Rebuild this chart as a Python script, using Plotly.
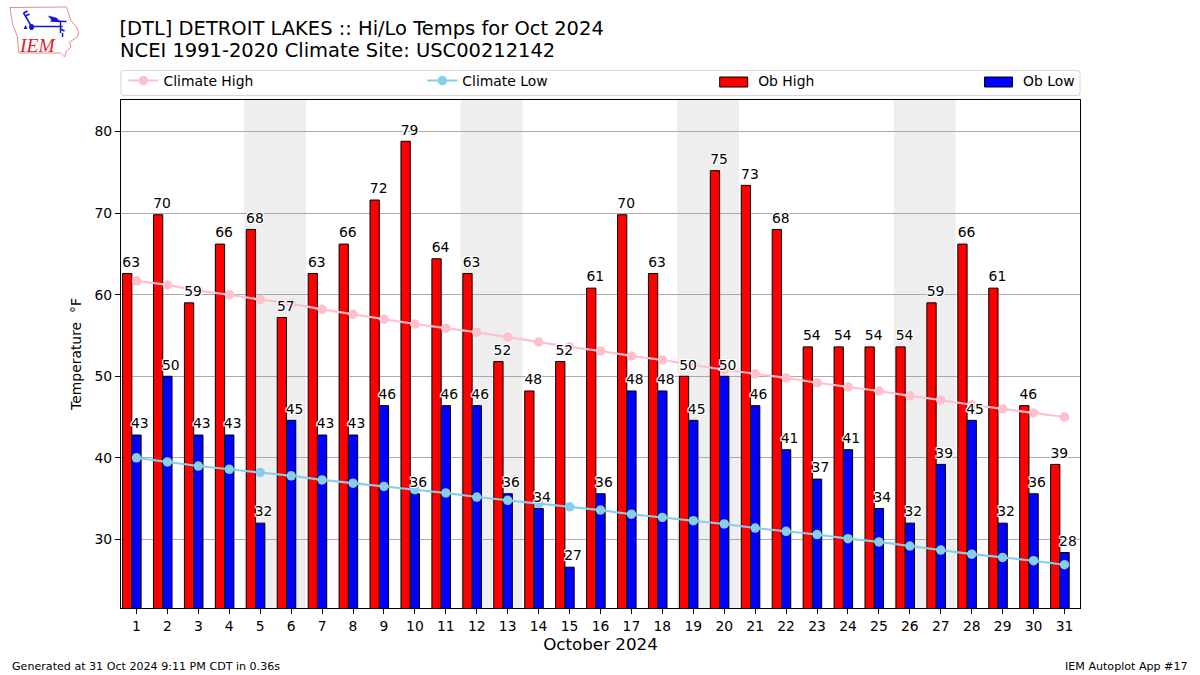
import plotly.graph_objects as go

days = list(range(1, 32))
ob_high = [62.6, 69.8, 59, 66.2, 68, 57.2, 62.6, 66.2, 71.6, 78.8, 64.4, 62.6, 51.8, 48.2, 51.8, 60.8,
           69.8, 62.6, 50, 75.2, 73.4, 68, 53.6, 53.6, 53.6, 53.6, 59, 66.2, 60.8, 46.4, 39.2]
ob_low = [42.8, 50, 42.8, 42.8, 32, 44.6, 42.8, 42.8, 46.4, 35.6, 46.4, 46.4, 35.6, 33.8, 26.6, 35.6,
          48.2, 48.2, 44.6, 50, 46.4, 41, 37.4, 41, 33.8, 32, 39.2, 44.6, 32, 35.6, 28.4]
clim_high = [61.7, 61.2, 60.5, 60.0, 59.4, 58.9, 58.2, 57.6, 57.0, 56.4, 55.9, 55.4, 54.8, 54.2, 53.6, 53.1,
             52.5, 52.0, 51.4, 50.8, 50.3, 49.8, 49.2, 48.7, 48.2, 47.6, 47.1, 46.5, 46.0, 45.5, 45.0]
clim_low = [40.0, 39.5, 39.0, 38.6, 38.2, 37.8, 37.3, 36.9, 36.5, 36.1, 35.7, 35.2, 34.8, 34.4, 34.0, 33.6,
            33.1, 32.7, 32.3, 31.9, 31.4, 31.0, 30.6, 30.1, 29.7, 29.2, 28.7, 28.2, 27.8, 27.4, 26.9]
weekend_starts = [5, 12, 19, 26]
y_ticks = [30, 40, 50, 60, 70, 80]

W, H = 1200, 675
L, R, T, B = 120.5, 1080, 100, 608
FONT = "DejaVu Sans"
HALO = "-1px -1px 0 #fff,1px -1px 0 #fff,-1px 1px 0 #fff,1px 1px 0 #fff,0 1px 0 #fff,0 -1px 0 #fff,1px 0 0 #fff,-1px 0 0 #fff"
LABEL_LIFT = 0.4


def px(x):
    return (x - L) / (R - L)


def py(y):
    return (B - y) / (B - T)


def path(points, close=False):
    s = "M " + " L ".join(f"{px(x):.5f},{py(y):.5f}" for x, y in points)
    return s + (" Z" if close else "")


fig = go.Figure()
fig.add_trace(go.Bar(x=days, y=ob_high, offset=-0.45, width=0.3, name="Ob High", showlegend=False,
                     marker=dict(color="red", line=dict(color="black", width=1))))
fig.add_trace(go.Bar(x=days, y=ob_low, offset=-0.15, width=0.3, name="Ob Low", showlegend=False,
                     marker=dict(color="blue", line=dict(color="black", width=1))))
# legend rows for the bars: text only, the wide swatches are drawn as rectangles beside them
fig.add_trace(go.Scatter(x=[None], y=[None], mode="lines", name="Ob High", legend="legend3",
                         line=dict(color="rgba(0,0,0,0)", width=1), hoverinfo="skip"))
fig.add_trace(go.Scatter(x=[None], y=[None], mode="lines", name="Ob Low", legend="legend4",
                         line=dict(color="rgba(0,0,0,0)", width=1), hoverinfo="skip"))
fig.add_trace(go.Scatter(x=days, y=clim_high, mode="lines+markers", name="Climate High", legend="legend",
                         line=dict(color="pink", width=2.1), marker=dict(color="pink", size=9.5)))
fig.add_trace(go.Scatter(x=days, y=clim_low, mode="lines+markers", name="Climate Low", legend="legend2",
                         line=dict(color="skyblue", width=2.1), marker=dict(color="skyblue", size=9.5)))
fig.add_trace(go.Scatter(x=[d - 0.17 for d in days], y=[v + LABEL_LIFT for v in ob_high], mode="text",
                         showlegend=False, hoverinfo="skip",
                         text=[str(round(v)) for v in ob_high], textposition="top center",
                         textfont=dict(family=FONT, size=13.9, color="black", shadow=HALO)))
fig.add_trace(go.Scatter(x=[d + 0.11 for d in days], y=[v + LABEL_LIFT for v in ob_low], mode="text",
                         showlegend=False, hoverinfo="skip",
                         text=[str(round(v)) for v in ob_low], textposition="top center",
                         textfont=dict(family=FONT, size=13.9, color="black", shadow=HALO)))

shapes = [dict(type="rect", xref="x", yref="paper", x0=d - 0.52, x1=d + 1.48, y0=0, y1=1, layer="below",
               fillcolor="#eeeeee", line_width=0) for d in weekend_starts]

# rounded legend frame
x0, x1, y0, y1, r = 120.5, 1080, 70.5, 95.5, 3
shapes.append(dict(type="path", xref="paper", yref="paper", layer="below", fillcolor="white",
                   line=dict(color="#d9d9d9", width=1.1),
                   path=(f"M {px(x0+r)},{py(y0)} L {px(x1-r)},{py(y0)} Q {px(x1)},{py(y0)} {px(x1)},{py(y0+r)} "
                         f"L {px(x1)},{py(y1-r)} Q {px(x1)},{py(y1)} {px(x1-r)},{py(y1)} "
                         f"L {px(x0+r)},{py(y1)} Q {px(x0)},{py(y1)} {px(x0)},{py(y1-r)} "
                         f"L {px(x0)},{py(y0+r)} Q {px(x0)},{py(y0)} {px(x0+r)},{py(y0)} Z")))

# legend swatches for the bars
for left, colour in ((719.5, "red"), (984.5, "blue")):
    shapes.append(dict(type="rect", xref="paper", yref="paper", x0=px(left), x1=px(left + 28),
                       y0=py(87), y1=py(77), fillcolor=colour, line=dict(color="black", width=1)))

# logo: Iowa outline and weather glyphs
outline = [(9.5, 7.5), (66, 7), (68, 13), (70, 20), (76, 27), (78, 33), (77, 37), (69, 42), (70.5, 47), (66, 51),
           (64, 57), (60, 53), (18, 53), (17, 37), (12, 24), (11, 18)]
shapes.append(dict(type="path", xref="paper", yref="paper", path=path(outline, True),
                   line=dict(color="#e88a8a", width=1)))
glyphs = [
    [(31, 26.5), (62, 26.5)], [(31, 26.5), (23, 13)], [(23, 13), (27, 11)], [(25, 16), (29, 14)],
    [(50, 21), (66, 21.5)], [(60, 21), (60, 33)], [(60, 29), (64, 31)], [(62, 33), (62, 37)],
]
for g in glyphs:
    shapes.append(dict(type="path", xref="paper", yref="paper", path=path(g), line=dict(color="#1414d2", width=1.5)))
shapes.append(dict(type="path", xref="paper", yref="paper", path=path([(48, 16), (56, 18), (60, 22), (52, 21)], True),
                   fillcolor="#1414d2", line=dict(color="#1414d2", width=0.5)))
shapes.append(dict(type="circle", xref="paper", yref="paper", x0=px(28.5), x1=px(33.5), y0=py(30), y1=py(24),
                   fillcolor="#1414d2", line_width=0))
shapes.append(dict(type="path", xref="paper", yref="paper", path=path([(23, 29), (25, 25), (27, 29)], True),
                   fillcolor="#1414d2", line_width=0))

annotations = [
    dict(text="NCEI 1991-2020 Climate Site: USC00212142", xref="paper", yref="paper", x=px(117), y=py(50.5),
         xanchor="left", yanchor="middle", showarrow=False, font=dict(family=FONT, size=19.48, color="black")),
    dict(text="Generated at 31 Oct 2024 9:11 PM CDT in 0.36s", xref="paper", yref="paper", x=px(9), y=py(666),
         xanchor="left", yanchor="middle", showarrow=False, font=dict(family=FONT, size=11.1, color="black")),
    dict(text="IEM Autoplot App #17", xref="paper", yref="paper", x=px(1190), y=py(666),
         xanchor="right", yanchor="middle", showarrow=False, font=dict(family=FONT, size=11.1, color="black")),
    dict(text="<i>IEM</i>", xref="paper", yref="paper", x=px(37), y=py(46), xanchor="center", yanchor="middle",
         showarrow=False, font=dict(family="Liberation Serif", size=19.5, color="#d8262c")),
]

legend_common = dict(orientation="h", xanchor="left", yanchor="middle", bgcolor="rgba(0,0,0,0)", borderwidth=0,
                     font=dict(family=FONT, size=13.9, color="black"), itemclick=False, itemdoubleclick=False)

fig.update_layout(
    width=W, height=H, autosize=False,
    margin=dict(l=L, r=W - R, t=T, b=H - B, pad=0),
    paper_bgcolor="white", plot_bgcolor="white",
    font=dict(family=FONT, size=13.9, color="black"),
    barmode="overlay", shapes=shapes, annotations=annotations,
    title=dict(text="[DTL] DETROIT LAKES :: Hi/Lo Temps for Oct 2024", xref="container", yref="container",
               x=119.5 / W, y=1 - 28.5 / H, xanchor="left", yanchor="middle",
               font=dict(family=FONT, size=19.48, color="black")),
    xaxis=dict(range=[0.5, 31.5], tickmode="array", tickvals=days, ticktext=[str(d) for d in days],
               showgrid=False, zeroline=False, ticks="outside", ticklen=5, tickwidth=1.1, tickcolor="black",
               showline=True, linecolor="black", linewidth=1.1, mirror=True,
               tickfont=dict(family=FONT, size=13.9),
               title=dict(text="October 2024", font=dict(family=FONT, size=16.7), standoff=5)),
    yaxis=dict(range=[21.6, 83.86], tickmode="array", tickvals=y_ticks, ticktext=[str(t) for t in y_ticks],
               showgrid=True, gridcolor="#aaaaaa", gridwidth=1, zeroline=False, ticks="outside", ticklen=5,
               tickwidth=1.1, tickcolor="black", showline=True, linecolor="black", linewidth=1.1, mirror=True,
               tickfont=dict(family=FONT, size=13.9),
               title=dict(text="Temperature \u00a0°F", font=dict(family=FONT, size=13.9), standoff=9)),
    legend=dict(x=px(123), y=py(81), **legend_common),
    legend2=dict(x=px(422), y=py(81), **legend_common),
    legend3=dict(x=px(718), y=py(81), **legend_common),
    legend4=dict(x=px(983), y=py(81), **legend_common),
    showlegend=True,
)

fig.write_html("out.html", config={"displayModeBar": False}, post_script="document.body.style.margin='0';")
